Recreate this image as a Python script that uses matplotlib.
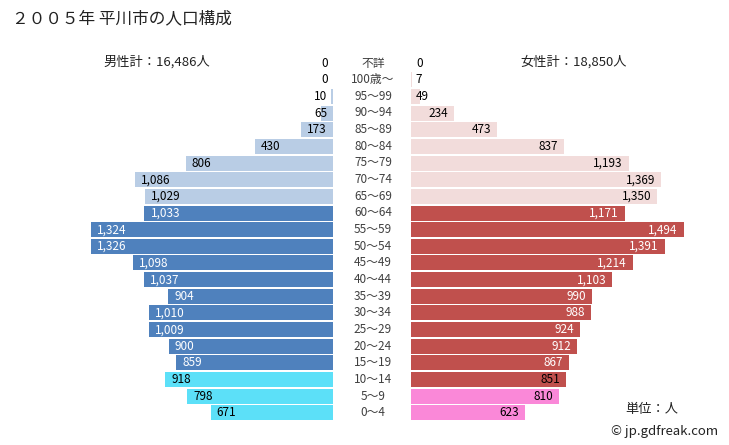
import matplotlib
matplotlib.use("Agg")
import matplotlib.pyplot as plt

plt.rcParams['font.family'] = ['Noto Sans CJK JP', 'DejaVu Sans']

ages = ["不詳", "100歳～", "95～99", "90～94", "85～89", "80～84", "75～79", "70～74",
        "65～69", "60～64", "55～59", "50～54", "45～49", "40～44", "35～39", "30～34",
        "25～29", "20～24", "15～19", "10～14", "5～9", "0～4"]
male = [0, 0, 10, 65, 173, 430, 806, 1086, 1029, 1033, 1324, 1326, 1098, 1037, 904,
        1010, 1009, 900, 859, 918, 798, 671]
female = [0, 7, 49, 234, 473, 837, 1193, 1369, 1350, 1171, 1494, 1391, 1214, 1103, 990,
          988, 924, 912, 867, 851, 810, 623]
groups_m = ["o"] * 9 + ["w"] * 10 + ["y"] * 3
groups_f = ["o"] * 9 + ["w"] * 11 + ["y"] * 2
text_groups = ["o"] * 9 + ["w"] * 10 + ["y"] * 3

male_colors = {"o": "#b9cde5", "w": "#4f81bd", "y": "#5ce0f8"}
female_colors = {"o": "#f2dcdb", "w": "#c0504d", "y": "#fa88d8"}
text_colors = {"o": "black", "w": "white", "y": "black"}

W, H = 729, 445
fig = plt.figure(figsize=(W / 100, H / 100), dpi=100)

scale = 0.1825  # px per person
xmax = 1500
axw = xmax * scale
top = 63 - 8.33
bot = 413 + 8.33
n = len(ages)

ax_m = fig.add_axes([(333 - axw) / W, (H - bot) / H, axw / W, (bot - top) / H])
ax_f = fig.add_axes([411 / W, (H - bot) / H, axw / W, (bot - top) / H])

ys = list(range(n))
ax_m.barh(ys, male, height=0.9, color=[male_colors[g] for g in groups_m])
ax_f.barh(ys, female, height=0.9, color=[female_colors[g] for g in groups_f])
ax_m.set_xlim(xmax, 0)
ax_f.set_xlim(0, xmax)
for ax in (ax_m, ax_f):
    ax.set_ylim(n - 0.5, -0.5)
    ax.axis("off")

pad = 6 / scale
fs = 8.5
for i, (vm, vf) in enumerate(zip(male, female)):
    tc = text_colors[text_groups[i]]
    if vm >= 150:
        ax_m.text(vm - pad, i, f"{vm:,}", ha="left", va="center", fontsize=fs, color=tc)
    else:
        ax_m.text(30, i, f"{vm:,}", ha="right", va="center", fontsize=fs, color="black")
    if vf >= 150:
        ax_f.text(vf - pad, i, f"{vf:,}", ha="right", va="center", fontsize=fs, color=tc)
    else:
        ax_f.text(27, i, f"{vf:,}", ha="left", va="center", fontsize=fs, color="black")

for i, a in enumerate(ages):
    y = 63 + i * (350 / 21)
    fig.text(373 / W, 1 - y / H, a, ha="center", va="center", fontsize=8.5, color="#404040")

fig.text(12 / W, 1 - 19 / H, "２００５年 平川市の人口構成", ha="left", va="center",
         fontsize=12, color="#222222")
fig.text(157 / W, 1 - 62 / H, "男性計：16,486人", ha="center", va="center", fontsize=9.5, color="#222222")
fig.text(574 / W, 1 - 62 / H, "女性計：18,850人", ha="center", va="center", fontsize=9.5, color="#222222")
fig.text(678 / W, 1 - 410 / H, "単位：人", ha="right", va="center", fontsize=9.5, color="#222222")
fig.text(718 / W, 1 - 432 / H, "© jp.gdfreak.com", ha="right", va="center", fontsize=9.5, color="#222222")

fig.savefig("out.png", dpi=100)
